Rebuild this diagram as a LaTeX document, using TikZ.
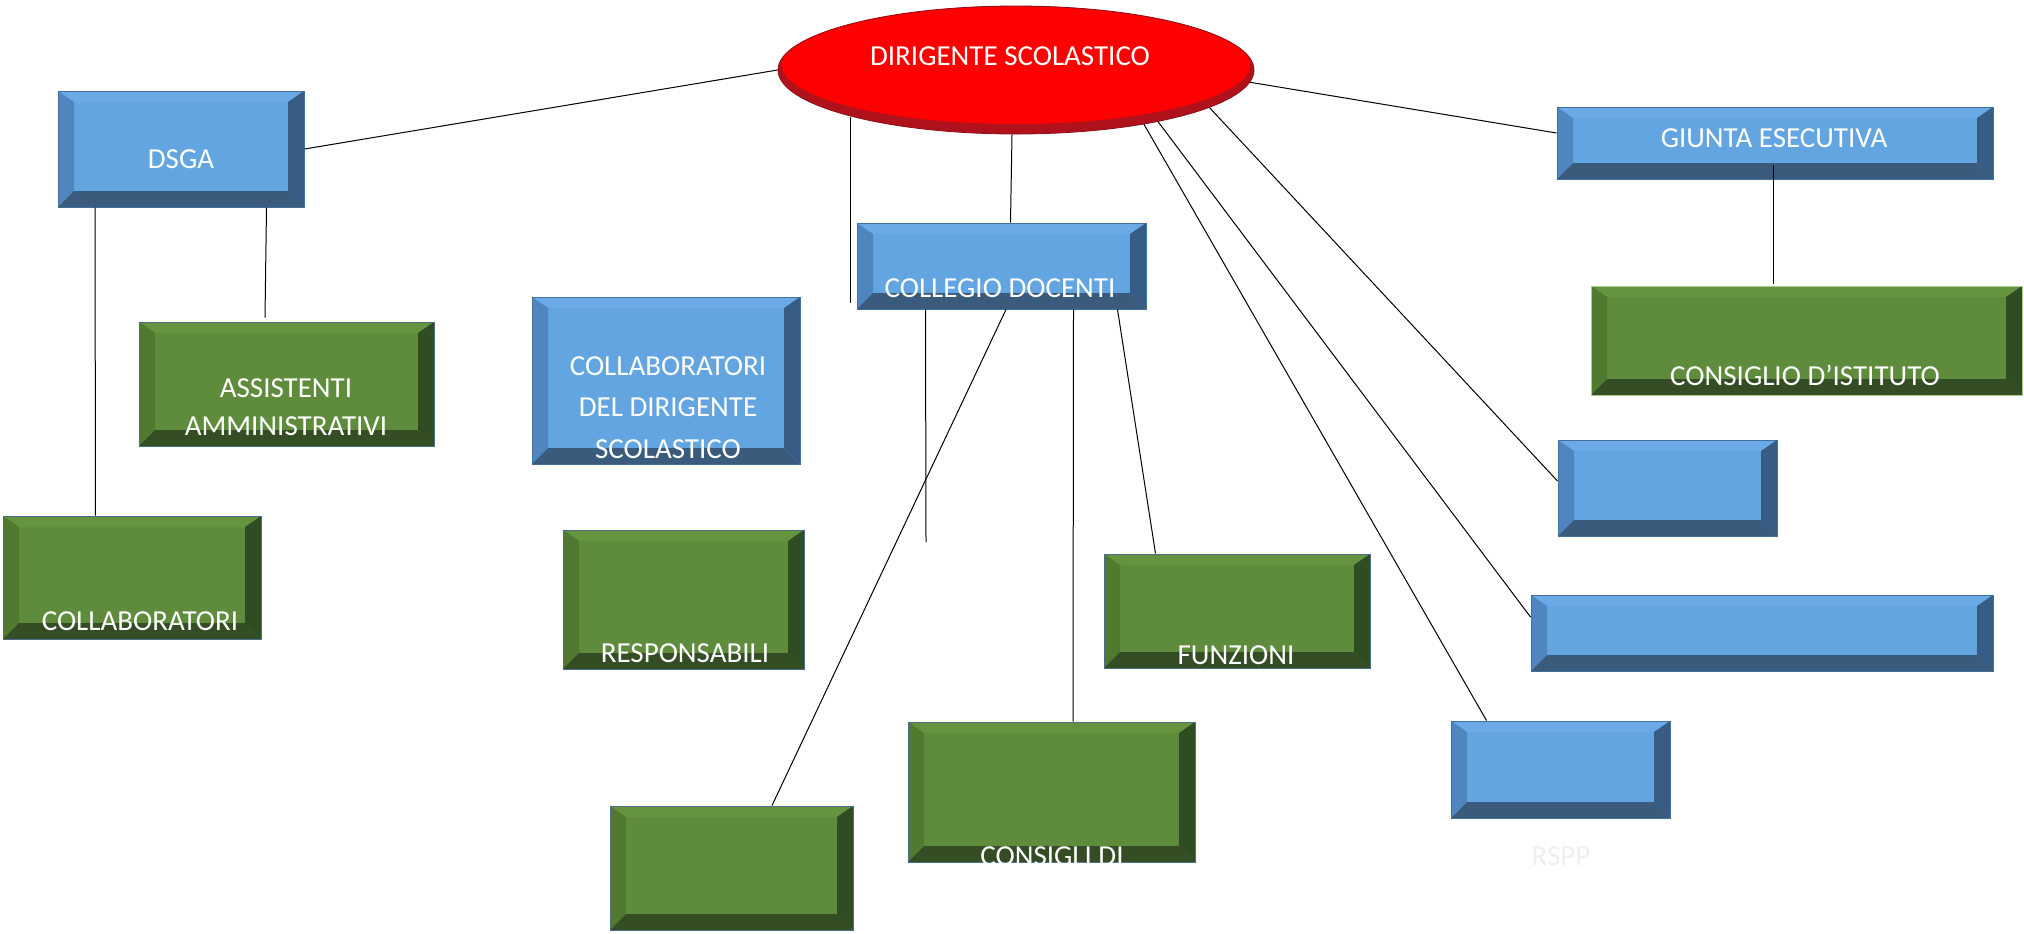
\documentclass[tikz,border=0pt]{standalone}
\usepackage{fontspec}
\setmainfont{Carlito}
\usetikzlibrary{shapes.geometric,calc}

\definecolor{bluface}{HTML}{63A5E0}
\definecolor{blutop}{HTML}{6BAAE6}
\definecolor{bluleft}{HTML}{4F86C0}
\definecolor{bluright}{HTML}{375D84}
\definecolor{blubottom}{HTML}{3A5B7C}
\definecolor{bluedge}{HTML}{41719C}
\definecolor{verdeface}{HTML}{5E8C3C}
\definecolor{verdetop}{HTML}{649440}
\definecolor{verdeleft}{HTML}{4F7A30}
\definecolor{verderight}{HTML}{304C22}
\definecolor{verdebottom}{HTML}{354D25}
\definecolor{verdeedge}{HTML}{4A6F8C}
\definecolor{verdechiaro}{HTML}{A9D18E}
\definecolor{rosso}{HTML}{FF0000}
\definecolor{rossoscuro}{HTML}{B0121C}
\definecolor{grigiochiaro}{HTML}{EFEFEF}

\tikzset{
  bevel/.style={rectangle, inner sep=0pt, line width=0.5pt, draw=#1edge, fill=#1face,
    path picture={
      \coordinate (pnw) at (path picture bounding box.north west);
      \coordinate (pne) at (path picture bounding box.north east);
      \coordinate (pse) at (path picture bounding box.south east);
      \coordinate (psw) at (path picture bounding box.south west);
      \fill[#1top] (pnw) -- (pne) -- ($(pne)+(-8pt,-5.5pt)$) -- ($(pnw)+(8pt,-5.5pt)$) -- cycle;
      \fill[#1left] (pnw) -- ($(pnw)+(8pt,-5.5pt)$) -- ($(psw)+(8pt,8pt)$) -- (psw) -- cycle;
      \fill[#1right] (pne) -- (pse) -- ($(pse)+(-8pt,8pt)$) -- ($(pne)+(-8pt,-5.5pt)$) -- cycle;
      \fill[#1bottom] (psw) -- ($(psw)+(8pt,8pt)$) -- ($(pse)+(-8pt,8pt)$) -- (pse) -- cycle;
    }},
  blubox/.style={bevel=blu},
  verdebox/.style={bevel=verde},
  testo/.style={text=white, inner sep=0pt, anchor=base, font=\fontsize{14.5}{19}\selectfont},
  filo/.style={line width=0.5pt},
}

\begin{document}
\begin{tikzpicture}[x=0.5pt,y=-0.5pt]
\useasboundingbox (0,0) rectangle (2024,933);

\node[ellipse, minimum width=238pt, minimum height=64pt, inner sep=0pt, fill=rossoscuro, draw=rossoscuro!80!black, line width=0.4pt,
  path picture={\fill[rosso] ([yshift=2.5pt]path picture bounding box.center) ellipse [x radius=117pt, y radius=29.5pt];}] (dirigente) at (1016,70) {};

\node[blubox, minimum width=123pt, minimum height=58pt] (dsga) at (181,149) {};
\node[verdebox, minimum width=147.5pt, minimum height=62pt] (assist) at (286.5,384) {};
\node[verdebox, minimum width=129pt, minimum height=61.5pt] (collab) at (132,577.5) {};
\node[blubox, minimum width=134pt, minimum height=83.5pt] (colldir) at (666,380.5) {};
\node[verdebox, minimum width=120.5pt, minimum height=69.5pt] (resp) at (683.5,599.5) {};
\node[verdebox, minimum width=121.5pt, minimum height=62pt] (vuoto) at (731.5,868) {};
\node[blubox, minimum width=144.5pt, minimum height=43pt] (collegio) at (1001.5,266) {};
\node[verdebox, minimum width=143.5pt, minimum height=70pt] (consigli) at (1051.5,792) {};
\node[verdebox, minimum width=133pt, minimum height=57pt] (funzioni) at (1237,611) {};
\node[blubox, minimum width=109.5pt, minimum height=48.5pt] (rspp) at (1560.5,769.5) {};
\node[blubox, minimum width=231pt, minimum height=38pt] (lungo) at (1762,633) {};
\node[blubox, minimum width=109.5pt, minimum height=48pt] (piccolo) at (1667.5,488) {};
\node[blubox, minimum width=218pt, minimum height=36pt] (giunta) at (1775,143) {};
\node[verdebox, draw=verdechiaro, minimum width=215.5pt, minimum height=54.5pt] (consiglio) at (1806.5,340.5) {};

\coordinate (libero1) at (850,303);
\coordinate (libero2) at (926,542);

\node[testo] (dirigente-t) at (1010,65) {DIRIGENTE SCOLASTICO};
\node[testo] (dsga-t) at (181,168) {DSGA};
\node[testo, anchor=north, align=center] (assist-t) at (286,378) {ASSISTENTI\\AMMINISTRATIVI};
\node[testo] (collab-t) at (140,630) {COLLABORATORI};
\node[testo, anchor=north, align=center, font=\fontsize{14.5}{20.75}\selectfont] (colldir-t) at (668,356) {COLLABORATORI\\DEL DIRIGENTE\\SCOLASTICO};
\node[testo] (resp-t) at (685,662) {RESPONSABILI};
\node[testo] (collegio-t) at (1000,297) {COLLEGIO DOCENTI};
\node[testo] (funzioni-t) at (1236,664) {FUNZIONI};
\begin{scope}
  \clip (consigli.south west) rectangle (consigli.north east);
  \node[testo] (consigli-t) at (1052,865) {CONSIGLI DI};
\end{scope}
\node[testo, text=grigiochiaro] (rspp-t) at (1561,865) {RSPP};
\node[testo] (giunta-t) at (1774,147) {GIUNTA ESECUTIVA};
\node[testo] (consiglio-t) at (1805,385) {CONSIGLIO D’ISTITUTO};

\draw[filo] (dirigente.west) -- (dsga.east);
\draw[filo] (dirigente.196 -| libero1) -- (libero1);
\draw[filo] ([xshift=-2pt]dirigente.south) -- ([xshift=4.5pt]collegio.north);
\draw[filo] (dirigente.337) -- ([xshift=18pt]rspp.north west);
\draw[filo] (dirigente.340) -- ([yshift=8pt]lungo.west);
\draw[filo] (dirigente.349) -- ([yshift=3.5pt]piccolo.west);
\draw[filo] (dirigente.357) -- ([yshift=5pt]giunta.west);

\draw[filo] ([xshift=18.75pt]dsga.south west) -- ([xshift=-18.25pt]collab.north);
\draw[filo] ([xshift=-19pt]dsga.south east) -- ([xshift=-10.75pt,yshift=2pt]assist.north);

\draw[filo] ([xshift=34.5pt]collegio.south west) -- (libero2);
\draw[filo] ([xshift=2.25pt]collegio.south) -- ([xshift=20.25pt]vuoto.north);
\draw[filo] ([xshift=-36.5pt]collegio.south east) -- ([xshift=10.75pt]consigli.north);
\draw[filo] ([xshift=-14.5pt]collegio.south east) -- ([xshift=26pt]funzioni.north west);

\draw[filo] ([xshift=-1pt,yshift=7.5pt]giunta.south) -- ([xshift=-16.75pt,yshift=1pt]consiglio.north);
\end{tikzpicture}
\end{document}
